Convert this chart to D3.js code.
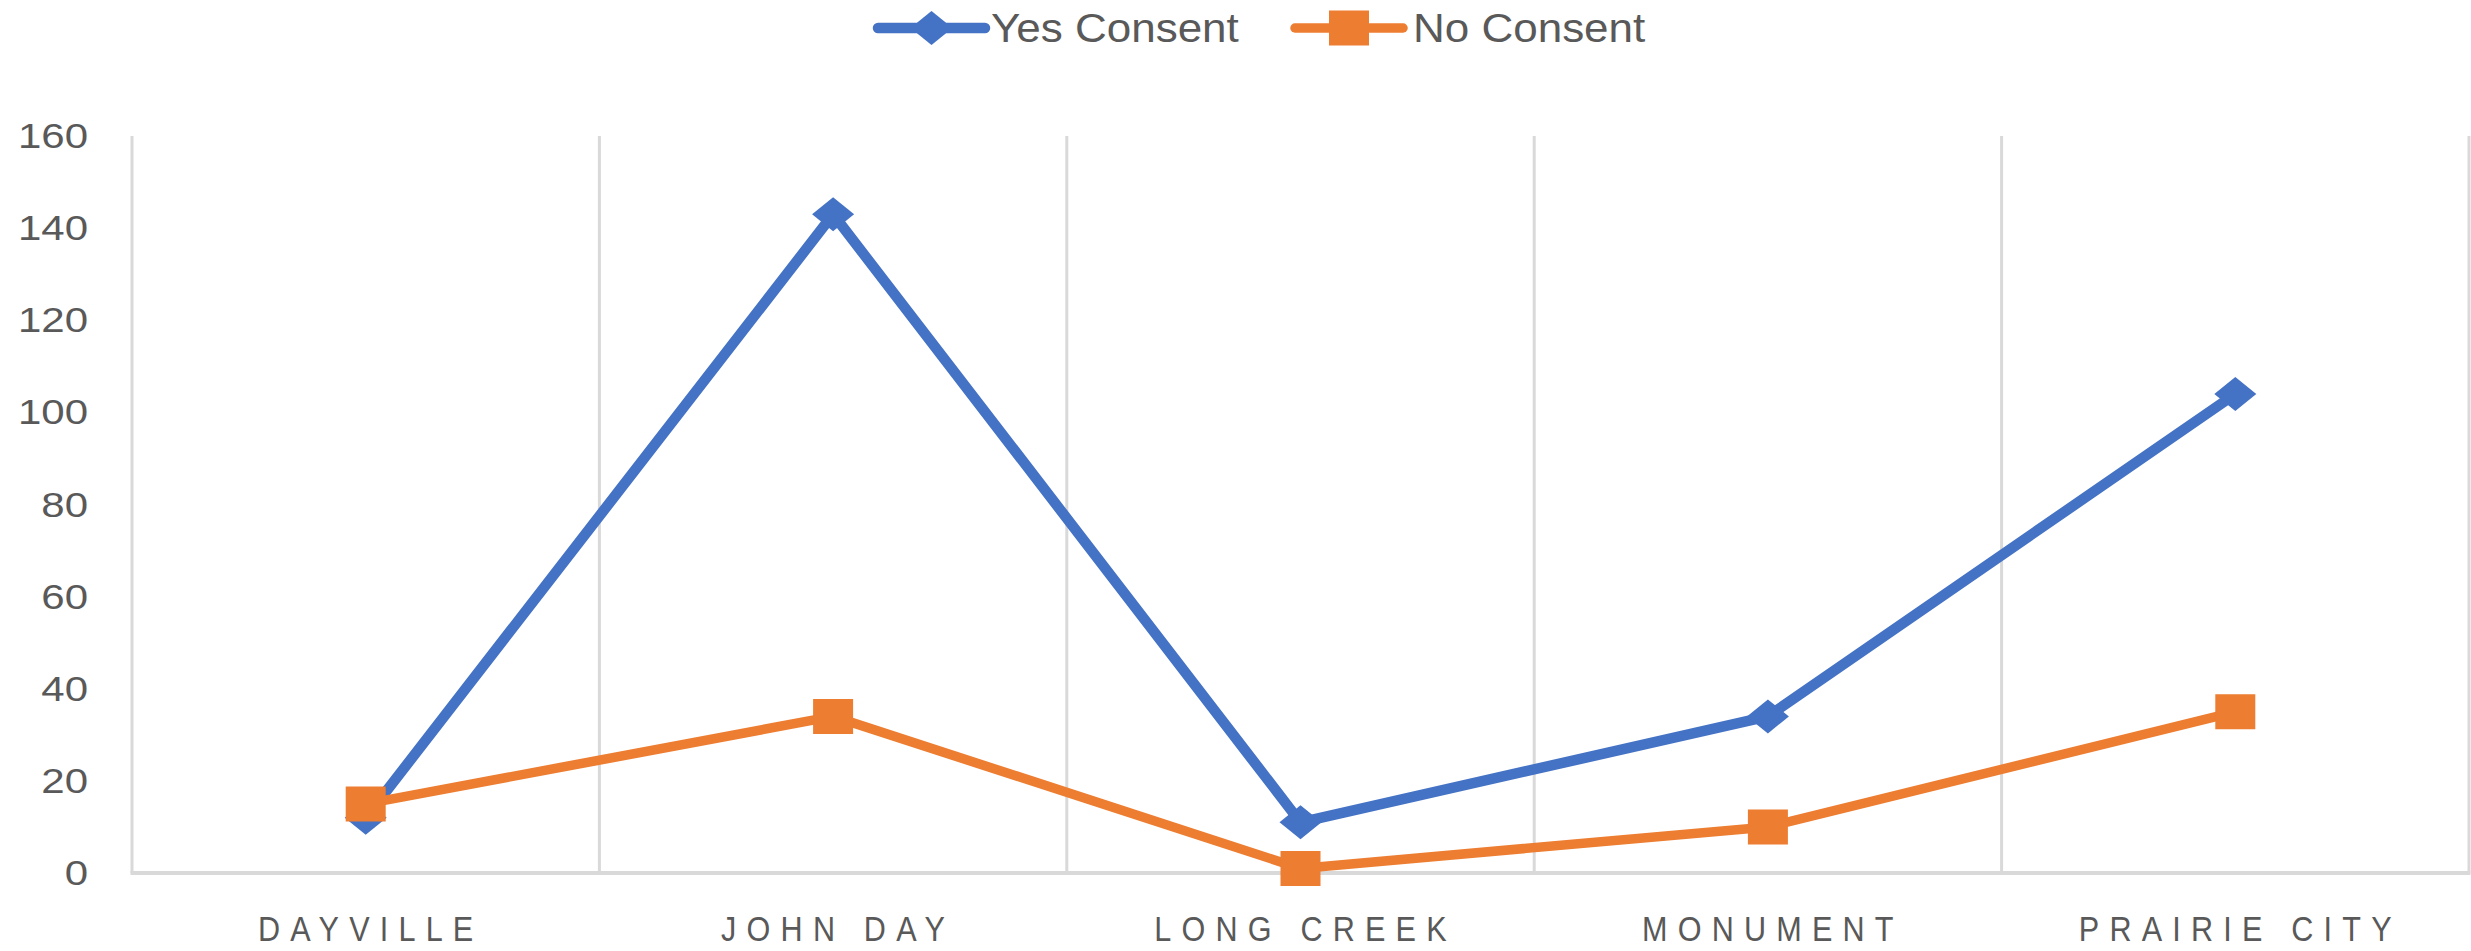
<!DOCTYPE html>
<html>
<head>
<meta charset="utf-8">
<script src="https://cdn.jsdelivr.net/npm/d3@7"></script>
<style>
  html, body { margin: 0; padding: 0; background: #fff; }
  svg { display: block; }
</style>
</head>
<body>
<div id="vis"></div>
<script>
const width = 2471;
const height = 951;

const categories = ['DAYVILLE', 'JOHN DAY', 'LONG CREEK', 'MONUMENT', 'PRAIRIE CITY'];
const yesConsent = [12, 143, 11, 34, 104];
const noConsent = [15, 34, 1, 10, 35];
const yTicks = [0, 20, 40, 60, 80, 100, 120, 140, 160];

const margin = { top: 136, right: 2, bottom: 78, left: 132 };
const textColor = '#595959';
const gridColor = '#d9d9d9';
const font = 'Liberation Sans, Arial, sans-serif';

const svg = d3.select('#vis').append('svg')
  .attr('width', width)
  .attr('height', height);

const x = d3.scaleBand()
  .domain(categories)
  .range([margin.left, width - margin.right]);

const y = d3.scaleLinear()
  .domain([0, 160])
  .range([height - margin.bottom, margin.top]);

// vertical gridlines at category boundaries (incl. both edges)
const bounds = categories.map(c => x(c)).concat([x.range()[1]]);
svg.append('g')
  .selectAll('line')
  .data(bounds)
  .join('line')
  .attr('x1', d => d)
  .attr('x2', d => d)
  .attr('y1', y(160))
  .attr('y2', y(0))
  .attr('stroke', gridColor)
  .attr('stroke-width', 3);

// bottom axis line
svg.append('line')
  .attr('x1', x.range()[0] - 1.5)
  .attr('x2', x.range()[1] + 1.5)
  .attr('y1', y(0))
  .attr('y2', y(0))
  .attr('stroke', gridColor)
  .attr('stroke-width', 4);

// y tick labels
svg.append('g')
  .selectAll('text')
  .data(yTicks)
  .join('text')
  .attr('transform', d => `translate(88,${y(d) + 12}) scale(1.2,1)`)
  .attr('text-anchor', 'end')
  .attr('font-family', font)
  .attr('font-size', 35)
  .attr('fill', textColor)
  .text(d => d);

// category labels: tall, narrow, widely spaced
svg.append('g')
  .selectAll('text')
  .data(categories)
  .join('text')
  .attr('transform', d => `translate(${x(d) + x.bandwidth() / 2 + 5},941) scale(0.85,1)`)
  .attr('text-anchor', 'middle')
  .attr('font-family', font)
  .attr('font-size', 36)
  .attr('letter-spacing', 12)
  .attr('fill', textColor)
  .text(d => d);

const cx = d => x(d) + x.bandwidth() / 2;

function diamond(px, py) {
  return `M${px},${py - 17} L${px + 21},${py} L${px},${py + 17} L${px - 21},${py} Z`;
}
function square(px, py) {
  return `M${px - 20},${py - 17.5} h40 v35 h-40 Z`;
}

const series = [
  { name: 'Yes Consent', values: yesConsent, color: '#4472C4', marker: diamond, lw: 10.5 },
  { name: 'No Consent', values: noConsent, color: '#ED7D31', marker: square, lw: 9.5 }
];

const line = d3.line()
  .x((d, i) => cx(categories[i]))
  .y(d => y(d));

series.forEach(s => {
  svg.append('path')
    .attr('d', line(s.values))
    .attr('fill', 'none')
    .attr('stroke', s.color)
    .attr('stroke-width', s.lw)
    .attr('stroke-linejoin', 'round')
    .attr('stroke-linecap', 'round');
  svg.append('g')
    .selectAll('path')
    .data(s.values)
    .join('path')
    .attr('d', (d, i) => s.marker(cx(categories[i]), y(d)))
    .attr('fill', s.color);
});

// legend
const legendItems = [
  { s: series[0], x0: 878, x1: 985, tx: 991 },
  { s: series[1], x0: 1295, x1: 1403, tx: 1413 }
];
const ly = 28;
legendItems.forEach(item => {
  svg.append('line')
    .attr('x1', item.x0)
    .attr('x2', item.x1)
    .attr('y1', ly)
    .attr('y2', ly)
    .attr('stroke', item.s.color)
    .attr('stroke-width', item.s.lw)
    .attr('stroke-linecap', 'round');
  svg.append('path')
    .attr('d', item.s.marker((item.x0 + item.x1) / 2, ly))
    .attr('fill', item.s.color);
  svg.append('text')
    .attr('transform', `translate(${item.tx},${ly + 14}) scale(1.1,1)`)
    .attr('font-family', font)
    .attr('font-size', 40)
    .attr('fill', textColor)
    .text(item.s.name);
});
</script>
</body>
</html>
